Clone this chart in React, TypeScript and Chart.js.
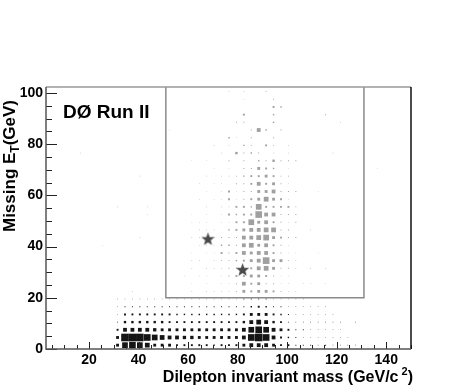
import { useEffect, useRef } from "react";
import { Chart, registerables } from "chart.js";
Chart.register(...registerables);

// ---- data ----
const binWidth = 3; // GeV, both axes
const xTickValues = [20, 40, 60, 80, 100, 120, 140];
const yTickValues = [0, 20, 40, 60, 80, 100];
const xRange = [2.6, 150];
const yRange = [0, 102.3];

// Background-like histogram (black boxes): [yBin, firstXBin, contents...]
const blackRows: number[][] = [
  [0, 10, 3, 6, 7, 6, 5, 3, 3, 3, 2, 2, 2, 2, 2, 1.5, 2, 2, 2, 3, 4, 4, 4, 3, 2, 2, 1, 1, 1, 0.5, 1, 0.5, 0.5, 0.5, 0.5],
  [1, 10, 3, 8, 8, 8, 7, 6, 5, 4, 4, 3.5, 3.5, 3, 3, 3, 3, 3, 3, 4, 7, 8, 7, 4, 2, 1.5, 1, 0.5, 0.5, 0.5, 0.5, 0.5, 0.5, 0.5],
  [2, 10, 2, 4, 4, 4, 4, 3.5, 3, 3, 3, 3, 3, 3, 3, 3, 3, 3, 3, 4, 6, 7, 6, 4, 3, 2, 1, 1, 0.5, 0.5, 0.5, 0.5, 0.5],
  [3, 10, 1, 2.5, 2.5, 2.5, 2.5, 2.5, 2.5, 2, 2, 2, 2, 2, 2, 2, 2, 2, 2, 2.5, 4, 5, 4, 2.5, 2, 1, 0.5, 0.5, 0.5, 0.5, 0.5, 0.5, 0.5, 0, 0.5],
  [4, 10, 0.5, 2, 2, 2, 2, 2, 2, 2, 1.5, 1.5, 1.5, 1.5, 1.5, 1.5, 1.5, 1.5, 1.5, 2, 3, 3, 3, 2, 1.5, 1, 0.5, 0.5, 0.5, 0.5, 0.5, 0.5],
  [5, 10, 0.5, 1, 1, 1, 1, 1, 1, 1, 1, 1, 1, 1, 1, 1, 1, 1, 1, 1, 1.5, 2, 1.5, 1, 1, 0.5, 0.5, 0.5, 0.5, 0.5, 0.5],
  [6, 10, 0.5, 0.5, 0.5, 0.5, 0.5, 0.5, 0.5, 0.5, 0.5, 0.5, 0.5, 0.5, 0.5, 0.5, 0.5, 0.5, 0.5, 1, 1, 1, 1, 0.5, 0.5, 0.5, 0.5, 0.5],
];

// Signal-region histogram (gray boxes): [yBin, firstXBin, contents...]
const grayRows: number[][] = [
  [7, 20, 0.5, 0, 0.5, 0.5, 0.5, 0.5, 1, 3, 2, 3, 3, 2, 1, 0.5, 0.5],
  [8, 20, 0.5, 0, 0.5, 0, 0.5, 0.5, 1, 4, 2, 3, 1, 1, 0.5, 0.5],
  [9, 19, 0.5, 0, 0.5, 0.5, 0, 0.5, 1, 2, 2, 3, 3, 2, 1, 0.5, 0.5],
  [10, 20, 0.5, 0, 0.5, 0.5, 0.5, 1, 1, 0, 2, 4, 5, 3, 1, 1, 0.5],
  [11, 20, 0.5, 0.5, 0, 0.5, 1, 1, 1.5, 2, 3, 4, 7, 3, 3, 1, 0.5],
  [12, 20, 0.5, 0, 0.5, 0.5, 2, 1, 2, 4, 3, 4, 4, 2, 1, 0.5, 0.5],
  [13, 20, 0, 0.5, 0.5, 0.5, 1.5, 1.5, 1, 4, 5, 3, 4, 2, 1, 0.5],
  [14, 20, 0.5, 0.5, 0, 0.5, 1, 1, 1, 4, 4, 5, 6, 3, 2, 1, 1],
  [15, 21, 0.5, 0.5, 0.5, 0, 1.5, 2, 3, 4, 4, 5, 5, 1, 1],
  [16, 20, 0.5, 0.5, 0.5, 0, 0.5, 0.5, 2, 2, 6, 3, 4, 2, 1, 0.5, 1],
  [17, 20, 0.5, 0, 0.5, 0, 0.5, 2, 1.5, 2, 2, 7, 4, 4, 1, 1, 1],
  [18, 22, 0.5, 0, 0.5, 0.5, 2, 2, 1.5, 6, 2, 2, 2, 2, 1],
  [19, 21, 0.5, 0, 0.5, 0.5, 2, 0.5, 1, 2, 3, 5, 3, 2, 0.5],
  [20, 22, 0.5, 0, 0.5, 2, 0.5, 1, 1, 3, 3, 4, 1, 1, 1],
  [21, 21, 0.5, 0, 0.5, 0.5, 0, 1, 1, 2, 4, 2, 3, 1, 0.5],
  [22, 22, 0.5, 0, 0.5, 0.5, 1, 1.5, 2, 2, 3, 2, 1, 1],
  [23, 23, 0.5, 0, 0.5, 0, 1, 1, 3, 2, 1.5, 0, 0.5],
  [24, 20, 0.5, 0, 0.5, 0, 0, 1, 0, 1, 0, 1.5, 1, 2.5, 1, 1, 1],
  [25, 24, 0.5, 0, 2.5, 1, 1.5, 1, 0, 0.5, 0, 0.5],
  [26, 23, 0.5, 0, 0.5, 0, 1.5, 1, 0, 2, 1, 0, 0.5],
  [27, 25, 1.5, 0.5, 0, 1, 0, 0, 1],
  [28, 28, 1, 4, 1.5, 0, 1],
  [29, 26, 1, 1, 0, 0, 0, 1.5],
  [30, 27, 2, 0, 0, 0, 1.5],
  [31, 31, 2, 1.5],
  [32, 27, 0.5, 0, 0, 0, 1],
  [33, 25, 0.5, 0, 0.5, 0, 0, 1],
  // sparse entries outside the main band
  [25, 5, 0.5], [22, 13, 0.5], [18, 10, 0.5, 0, 0, 0, 0.5], [17, 14, 0.5],
  [13, 8, 0.5], [14, 13, 0.5], [7, 12, 0.5], [28, 17, 0.5],
  [30, 38, 1], [29, 40, 0.5], [25, 39, 0.5], [23, 45, 0.5], [20, 37, 0.5],
  [15, 36, 0.5], [12, 37, 0.5], [10, 36, 0.5, 0, 0.5], [8, 35, 0.5, 0.5, 0, 0.5],
];

// Selected candidate events (GeV/c^2, GeV)
const candidateMass = [68, 82];
const candidateMET = [43, 31];

// Signal-region cut boundary (mass, MET)
const cutMass = [51, 51, 131, 131];
const cutMET = [102.3, 20, 20, 102.3];

// ---- helpers ----
type Cell = { x: number; y: number; v: number };
function rowsToCells(rows: number[][]): Cell[] {
  const out: Cell[] = [];
  for (const row of rows) {
    const j = row[0];
    const i0 = row[1];
    for (let k = 2; k < row.length; k++) {
      const v = row[k];
      if (v <= 0) continue;
      out.push({ x: (i0 + k - 2 + 0.5) * binWidth, y: (j + 0.5) * binWidth, v });
    }
  }
  return out;
}
function boxRadius(v: number) {
  const side = Math.max(0.6, v * 0.95);
  return side / Math.SQRT2;
}
function makeStar(): HTMLCanvasElement {
  const c = document.createElement("canvas");
  c.width = 15;
  c.height = 15;
  const g = c.getContext("2d")!;
  g.fillStyle = "#4a4a4a";
  g.beginPath();
  for (let k = 0; k < 10; k++) {
    const r = k % 2 === 0 ? 7 : 2.9;
    const a = -Math.PI / 2 + (k * Math.PI) / 5;
    const px = 7.5 + r * Math.cos(a);
    const py = 8 + r * Math.sin(a);
    if (k === 0) g.moveTo(px, py);
    else g.lineTo(px, py);
  }
  g.closePath();
  g.fill();
  return c;
}

const FONT = "'Liberation Sans', Arial, Helvetica, sans-serif";

const decorPlugin = {
  id: "decor",
  afterDatasetsDraw(chart: any) {
    const { ctx, chartArea: a } = chart;
    const xs = chart.scales.x;
    const ys = chart.scales.y;
    ctx.save();
    ctx.strokeStyle = "#222";
    ctx.lineWidth = 1;
    ctx.beginPath();
    for (let v = 5; v <= 150; v += 5) {
      if (v < xs.min || v > xs.max) continue;
      const px = Math.round(xs.getPixelForValue(v)) + 0.5;
      const len = v % 20 === 0 ? 7 : 4;
      ctx.moveTo(px, a.bottom);
      ctx.lineTo(px, a.bottom - len);
    }
    for (let v = 0; v <= 100; v += 5) {
      const py = Math.round(ys.getPixelForValue(v)) + 0.5;
      const len = v % 20 === 0 ? 11 : 6;
      ctx.moveTo(a.left, py);
      ctx.lineTo(a.left + len, py);
    }
    ctx.stroke();
    ctx.lineWidth = 1.5;
    ctx.strokeStyle = "#999";
    ctx.beginPath();
    ctx.moveTo(a.left, a.top);
    ctx.lineTo(a.right, a.top);
    ctx.stroke();
    ctx.strokeStyle = "#111";
    ctx.beginPath();
    ctx.moveTo(a.right, a.top);
    ctx.lineTo(a.right, a.bottom);
    ctx.stroke();
    ctx.strokeStyle = "#555";
    ctx.beginPath();
    ctx.moveTo(a.left, a.top);
    ctx.lineTo(a.left, a.bottom);
    ctx.lineTo(a.right, a.bottom);
    ctx.stroke();
    ctx.restore();
  },
  afterDraw(chart: any) {
    const { ctx, chartArea: a } = chart;
    ctx.save();
    ctx.fillStyle = "#000";
    ctx.textBaseline = "alphabetic";
    ctx.font = `bold 19px ${FONT}`;
    ctx.textAlign = "left";
    ctx.fillText("DØ Run II", a.left + 17, 118);

    const xParts: [string, number, number][] = [
      ["Dilepton invariant mass (GeV/c", 16, 0],
      [" 2", 11, -7],
      [")", 16, 0],
    ];
    let w = 0;
    for (const [t, s] of xParts) {
      ctx.font = `bold ${s}px ${FONT}`;
      w += ctx.measureText(t).width;
    }
    let cx = a.right + 2 - w;
    for (const [t, s, dy] of xParts) {
      ctx.font = `bold ${s}px ${FONT}`;
      ctx.fillText(t, cx, 382 + dy);
      cx += ctx.measureText(t).width;
    }

    const yParts: [string, number, number][] = [
      ["Missing E", 17, 0],
      ["T", 12, 4],
      ["(GeV)", 17, 0],
    ];
    let wy = 0;
    for (const [t, s] of yParts) {
      ctx.font = `bold ${s}px ${FONT}`;
      wy += ctx.measureText(t).width;
    }
    ctx.translate(15, 0);
    ctx.rotate(-Math.PI / 2);
    let cy = -100 - wy;
    for (const [t, s, dy] of yParts) {
      ctx.font = `bold ${s}px ${FONT}`;
      ctx.fillText(t, cy, dy);
      cy += ctx.measureText(t).width;
    }
    ctx.restore();
  },
};

export default function App() {
  const ref = useRef<HTMLCanvasElement | null>(null);
  useEffect(() => {
    document.body.style.margin = "0";
    document.body.style.overflow = "hidden";
    const canvas = ref.current!;
    const star = makeStar();
    const black = rowsToCells(blackRows);
    const gray = rowsToCells(grayRows);
    const stars = candidateMass.map((m, k) => ({ x: m, y: candidateMET[k] }));
    const box = cutMass.map((m, k) => ({ x: m, y: cutMET[k] }));
    const chart = new Chart(canvas, {
      type: "scatter",
      data: {
        datasets: [
          {
            data: stars,
            pointStyle: star as any,
            pointRadius: 7,
            order: 0,
          } as any,
          {
            data: box,
            showLine: true,
            borderColor: "#8a8a8a",
            borderWidth: 1.5,
            pointRadius: 0,
            fill: false,
            order: 1,
          },
          {
            data: gray as any,
            pointStyle: "rect",
            backgroundColor: "#a0a0a0",
            borderWidth: 0,
            pointRadius: (c: any) => boxRadius(c.raw.v),
            order: 2,
          },
          {
            data: black as any,
            pointStyle: "rect",
            backgroundColor: "#151515",
            borderWidth: 0,
            pointRadius: (c: any) => boxRadius(c.raw.v),
            order: 3,
          },
        ],
      },
      options: {
        animation: false,
        responsive: false,
        devicePixelRatio: 1,
        events: [],
        layout: { padding: { top: 87, right: 46, left: 0, bottom: 0 } },
        plugins: { legend: { display: false }, tooltip: { enabled: false } },
        scales: {
          x: {
            type: "linear",
            min: xRange[0],
            max: xRange[1],
            grid: { display: false, drawTicks: false },
            border: { display: false },
            afterBuildTicks: (s: any) => {
              s.ticks = xTickValues.map((v) => ({ value: v }));
            },
            afterFit: (s: any) => {
              s.height = 40;
            },
            ticks: {
              padding: 3,
              color: "#000",
              maxRotation: 0,
              autoSkip: false,
              font: { family: FONT, size: 14, weight: "bold" },
            },
          },
          y: {
            type: "linear",
            min: yRange[0],
            max: yRange[1],
            grid: { display: false, drawTicks: false },
            border: { display: false },
            afterBuildTicks: (s: any) => {
              s.ticks = yTickValues.map((v) => ({ value: v }));
            },
            afterFit: (s: any) => {
              s.width = 46;
            },
            ticks: {
              padding: 3,
              color: "#000",
              autoSkip: false,
              font: { family: FONT, size: 14, weight: "bold" },
            },
          },
        },
      },
      plugins: [decorPlugin],
    });
    return () => chart.destroy();
  }, []);
  return (
    <canvas
      ref={ref}
      width={457}
      height={389}
      style={{ display: "block", width: 457, height: 389 }}
    />
  );
}
